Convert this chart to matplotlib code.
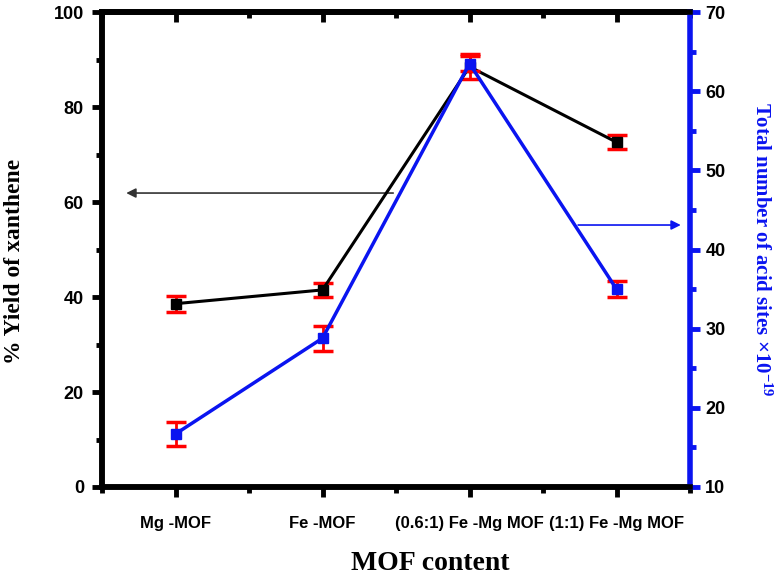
import numpy as np
import matplotlib
matplotlib.use('Agg')
import matplotlib.pyplot as plt
from matplotlib.ticker import MultipleLocator
from matplotlib.font_manager import FontProperties

plt.rcParams['mathtext.fontset'] = 'custom'
plt.rcParams['mathtext.rm'] = 'Liberation Serif:bold'
plt.rcParams['mathtext.bf'] = 'Liberation Serif:bold'
plt.rcParams['mathtext.it'] = 'Liberation Serif:bold'

categories = ['Mg -MOF', 'Fe -MOF', '(0.6:1) Fe -Mg MOF', '(1:1) Fe -Mg MOF']
yield_pct = [38.6, 41.5, 88.5, 72.6]
yield_err = [1.7, 1.5, 2.6, 1.5]
acid_sites = [16.7, 28.8, 63.5, 35.0]
acid_err = [1.5, 1.6, 1.0, 1.0]

x = np.arange(1, len(categories) + 1)
blue = '#0a14f0'

fig = plt.figure(figsize=(7.81, 5.77), dpi=100)
ax = fig.add_axes([0.1306, 0.156, 0.7529, 0.823])
ax2 = ax.twinx()

# black series, left axis
ax.errorbar(x, yield_pct, yerr=yield_err, color='black', lw=2.2, marker='s',
            ms=7, mfc='black', mec='black', ecolor='red', elinewidth=2,
            capsize=7, capthick=2.5, zorder=3)
# blue series, right axis
ax2.errorbar(x, acid_sites, yerr=acid_err, color=blue, lw=2.5, marker='s',
             ms=7, mfc=blue, mec=blue, ecolor='red', elinewidth=2,
             capsize=7, capthick=2.5, zorder=3)

ax.set_xlim(0.5, 4.5)
ax.set_ylim(0, 100)
ax2.set_ylim(10, 70)

ax.set_xticks(x)
ax.set_xticklabels(categories)
ax.xaxis.set_minor_locator(MultipleLocator(0.5))
ax.yaxis.set_major_locator(MultipleLocator(20))
ax.yaxis.set_minor_locator(MultipleLocator(10))
ax2.yaxis.set_major_locator(MultipleLocator(10))
ax2.yaxis.set_minor_locator(MultipleLocator(5))

for lab in ax.get_xticklabels():
    lab.set_fontproperties(FontProperties(family='Liberation Sans', weight='bold', size=12))
for lab in ax.get_yticklabels() + ax2.get_yticklabels():
    lab.set_fontproperties(FontProperties(family='Liberation Sans', weight='bold', size=13))

ax.tick_params(axis='both', which='major', direction='out', length=7, width=3.5, pad=6)
ax.tick_params(axis='both', which='minor', direction='out', length=4, width=3.5)
ax.tick_params(axis='x', which='major', pad=14)
ax2.tick_params(axis='y', which='major', direction='out', length=7, width=3.5,
                color=blue, labelcolor='black', pad=4)
ax2.tick_params(axis='y', which='minor', direction='out', length=4, width=3.5, color=blue)

# inward ticks on the top spine
top = ax.secondary_xaxis('top')
top.set_xticks(x)
top.set_xticklabels([])
top.xaxis.set_minor_locator(MultipleLocator(0.5))
top.tick_params(which='major', direction='in', length=7, width=3.5)
top.tick_params(which='minor', direction='in', length=4, width=3.5)
top.spines['top'].set_linewidth(4)

for s in ['left', 'bottom', 'top']:
    ax.spines[s].set_linewidth(4)
    ax2.spines[s].set_linewidth(4)
ax.spines['right'].set_visible(False)
ax2.spines['right'].set_linewidth(4)
ax2.spines['right'].set_color(blue)
ax2.spines['left'].set_color('black')

ax.set_xlabel('MOF content', family='Liberation Serif', weight='bold', size=20)
ax.xaxis.set_label_coords(0.558, -0.135)
ax.set_ylabel('% Yield of xanthene', family='Liberation Serif', weight='bold', size=17)
ax.yaxis.set_label_coords(-0.131, 0.474)
ax2.set_ylabel('Total number of acid sites ×10$^{-19}$', family='Liberation Serif',
               weight='bold', size=15, color=blue, rotation=270, labelpad=33)

# arrows pointing at the respective axes
ax.annotate('', xy=(0.646, 61.9), xytext=(2.5, 61.9),
            arrowprops=dict(arrowstyle='-|>', color='#333333', lw=1.2, mutation_scale=14))
ax2.annotate('', xy=(4.456, 43.1), xytext=(3.72, 43.1),
             arrowprops=dict(arrowstyle='-|>', color=blue, lw=1.2, mutation_scale=14))

fig.savefig('out.png', dpi=100)
